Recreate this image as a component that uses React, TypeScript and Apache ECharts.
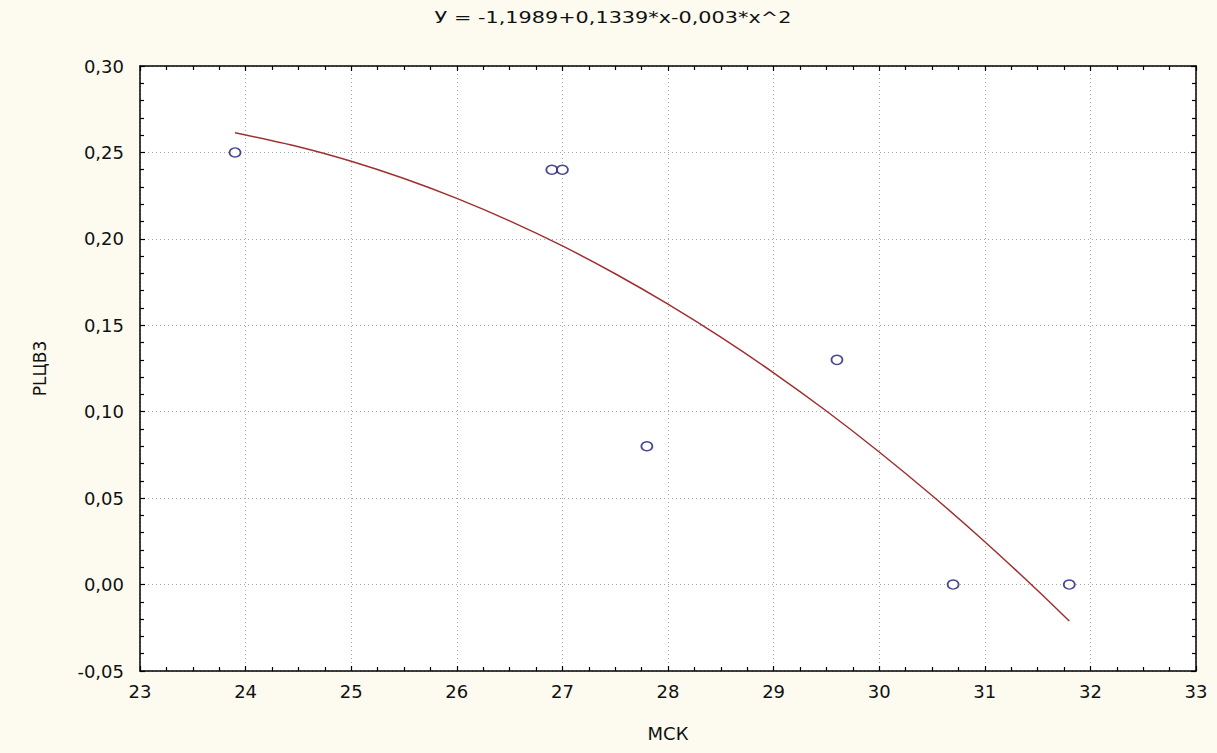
import React, { useEffect, useRef } from "react";
import * as echarts from "echarts";

const titleText = "У = -1,1989+0,1339*x-0,003*x^2";
const xName = "МСК";
const yName = "PLЦВ3";

const pointX = [23.9, 26.9, 27.0, 27.8, 29.6, 30.7, 31.8];
const pointY = [0.25, 0.24, 0.24, 0.08, 0.13, 0.0, 0.0];

const curveX = [23.9, 24.5, 25, 25.5, 26, 26.5, 27, 27.5, 28, 28.5, 29, 29.5, 30, 30.5, 31, 31.5, 31.8];
const curveY = [0.2614, 0.2533, 0.2449, 0.2349, 0.2234, 0.2104, 0.1959, 0.1798, 0.1622, 0.1431, 0.1225, 0.1004, 0.0767, 0.0515, 0.0248, -0.0034, -0.0211];

const FONT = "DejaVu Sans, Verdana, sans-serif";

export default function App() {
  const ref = useRef<HTMLDivElement>(null);
  useEffect(() => {
    if (!ref.current) return;
    const chart = echarts.init(ref.current, null, { renderer: "svg" });
    const axisLine = { show: true, onZero: false, lineStyle: { color: "#000", width: 1.5 } };
    const tick = { show: true, inside: true, length: 5, lineStyle: { color: "#000", width: 1.2 } };
    const minorTick = { show: true, length: 4, lineStyle: { color: "#000", width: 1.2 } };
    const splitLine = { show: true, lineStyle: { color: "#a8a8a8", type: [1, 3], width: 1 } };
    chart.setOption({
      animation: false,
      backgroundColor: "#FDFBEF",
      graphic: [
        {
          type: "text",
          x: 613,
          y: 17,
          scaleX: 1.3,
          style: {
            text: titleText,
            fontFamily: FONT,
            fontSize: 16,
            fill: "#111",
            align: "center",
            verticalAlign: "middle",
          },
        },
      ],
      grid: {
        left: 140,
        top: 66,
        width: 1056,
        height: 605,
        show: true,
        backgroundColor: "#ffffff",
        borderWidth: 0,
      },
      xAxis: [
        {
          type: "value",
          min: 23,
          max: 33,
          interval: 1,
          name: xName,
          nameLocation: "middle",
          nameGap: 53,
          nameTextStyle: { fontFamily: FONT, fontSize: 18, color: "#111" },
          axisLine,
          axisTick: tick,
          minorTick: { ...minorTick, splitNumber: 4 },
          splitLine,
          axisLabel: { fontFamily: FONT, fontSize: 18, color: "#111", margin: 11 },
        },
        {
          type: "value",
          position: "top",
          min: 23,
          max: 33,
          interval: 1,
          axisLine,
          axisTick: tick,
          minorTick: { ...minorTick, splitNumber: 4 },
          splitLine: { show: false },
          axisLabel: { show: false },
        },
      ],
      yAxis: [
        {
          type: "value",
          min: -0.05,
          max: 0.3,
          interval: 0.05,
          name: yName,
          nameLocation: "middle",
          nameGap: 92,
          nameTextStyle: { fontFamily: FONT, fontSize: 17, color: "#111" },
          axisLine,
          axisTick: tick,
          minorTick: { ...minorTick, splitNumber: 5 },
          splitLine,
          axisLabel: {
            fontFamily: FONT,
            fontSize: 18,
            color: "#111",
            margin: 16,
            formatter: (v: number) => v.toFixed(2).replace(".", ","),
          },
        },
        {
          type: "value",
          position: "right",
          min: -0.05,
          max: 0.3,
          interval: 0.05,
          axisLine,
          axisTick: tick,
          minorTick: { ...minorTick, splitNumber: 5 },
          splitLine: { show: false },
          axisLabel: { show: false },
        },
      ],
      series: [
        {
          type: "line",
          xAxisIndex: 0,
          yAxisIndex: 0,
          data: curveX.map((x, i) => [x, curveY[i]]),
          showSymbol: false,
          smooth: 0.3,
          lineStyle: { color: "#A03030", width: 1.5 },
          z: 3,
        },
        {
          type: "scatter",
          xAxisIndex: 0,
          yAxisIndex: 0,
          data: pointX.map((x, i) => [x, pointY[i]]),
          symbol: "circle",
          symbolSize: [11, 9],
          itemStyle: { color: "#ffffff", borderColor: "#1C1C70", borderWidth: 1.6 },
          z: 4,
        },
      ],
    });
    return () => chart.dispose();
  }, []);
  return (
    <div
      ref={ref}
      style={{ position: "fixed", left: 0, top: 0, width: 1217, height: 753 }}
    />
  );
}
